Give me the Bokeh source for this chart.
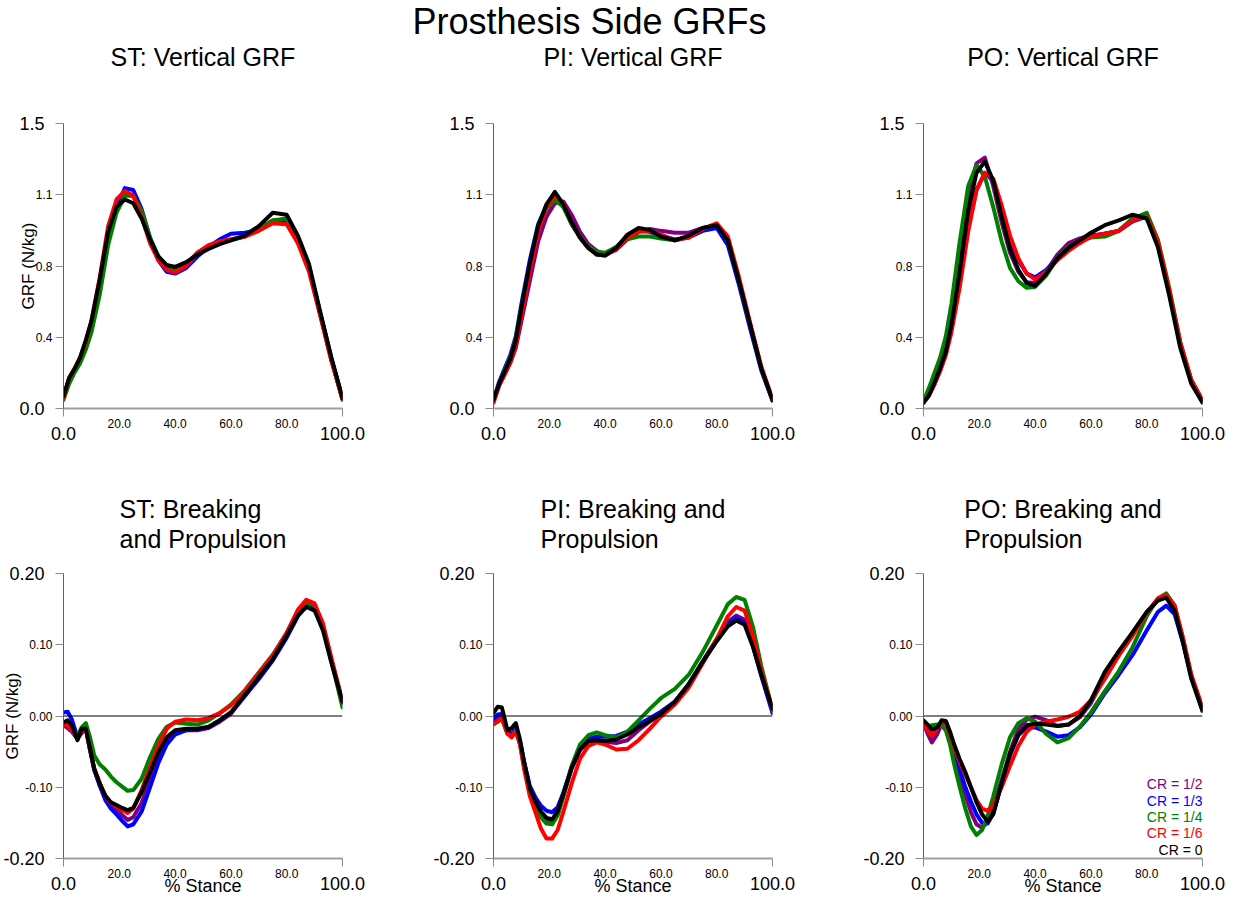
from bokeh.plotting import figure
from bokeh.models import Range1d, FixedTicker, Label, Span, LinearAxis
from bokeh.layouts import column, row
from bokeh.embed import file_html
from bokeh.resources import INLINE

FONT = "Liberation Sans"

series_names = ["CR = 1/2", "CR = 1/3", "CR = 1/4", "CR = 1/6", "CR = 0"]
series_colors = ["#800080", "#0000ff", "#008000", "#ff0000", "#000000"]

# % stance grids
x_vert = [0, 2, 4, 6, 8, 10, 13, 16, 19, 22, 25, 28, 31, 34, 37, 40, 44, 48, 52, 56,
          60, 65, 70, 75, 80, 84, 88, 92, 96, 100]
x_ap = [0, 1.5, 3, 5, 6.5, 8, 9.5, 11, 13, 15, 17, 19, 21, 23, 25, 28, 31, 34, 37, 40,
        44, 48, 52, 56, 60, 65, 70, 75, 80, 84, 87, 90, 93, 96, 100]

# ST vertical GRF
st_vert_cr2 = [0.06, 0.15, 0.20, 0.26, 0.34, 0.44, 0.65, 0.91, 1.06, 1.13, 1.12, 1.02, 0.89, 0.79, 0.74, 0.73, 0.76, 0.82, 0.855, 0.875, 0.89, 0.905, 0.945, 0.99, 0.995, 0.89, 0.74, 0.50, 0.26, 0.05]
st_vert_cr3 = [0.06, 0.15, 0.20, 0.26, 0.34, 0.43, 0.63, 0.89, 1.06, 1.16, 1.15, 1.05, 0.90, 0.78, 0.72, 0.71, 0.74, 0.80, 0.85, 0.89, 0.92, 0.925, 0.94, 0.985, 0.99, 0.89, 0.74, 0.50, 0.26, 0.05]
st_vert_cr4 = [0.045, 0.13, 0.19, 0.24, 0.31, 0.40, 0.60, 0.86, 1.03, 1.12, 1.12, 1.04, 0.90, 0.80, 0.75, 0.735, 0.76, 0.81, 0.845, 0.87, 0.885, 0.905, 0.945, 0.99, 1.0, 0.90, 0.75, 0.50, 0.26, 0.045]
st_vert_cr6 = [0.06, 0.16, 0.21, 0.27, 0.35, 0.46, 0.69, 0.96, 1.10, 1.145, 1.12, 1.01, 0.87, 0.78, 0.73, 0.715, 0.75, 0.82, 0.86, 0.88, 0.89, 0.905, 0.935, 0.975, 0.97, 0.87, 0.72, 0.49, 0.25, 0.05]
st_vert_cr0 = [0.065, 0.16, 0.21, 0.27, 0.36, 0.46, 0.68, 0.93, 1.06, 1.10, 1.08, 1.00, 0.89, 0.80, 0.755, 0.745, 0.77, 0.81, 0.84, 0.865, 0.885, 0.91, 0.96, 1.03, 1.02, 0.91, 0.76, 0.51, 0.27, 0.056]

# PI vertical GRF
pi_vert_cr2 = [0.04, 0.12, 0.18, 0.24, 0.32, 0.46, 0.67, 0.88, 1.01, 1.08, 1.09, 1.02, 0.93, 0.865, 0.83, 0.81, 0.835, 0.89, 0.93, 0.945, 0.935, 0.925, 0.925, 0.95, 0.965, 0.89, 0.67, 0.44, 0.21, 0.045]
pi_vert_cr3 = [0.04, 0.14, 0.21, 0.28, 0.38, 0.55, 0.78, 0.97, 1.07, 1.13, 1.07, 0.97, 0.90, 0.845, 0.815, 0.81, 0.85, 0.905, 0.935, 0.93, 0.91, 0.89, 0.90, 0.935, 0.95, 0.86, 0.65, 0.42, 0.20, 0.04]
pi_vert_cr4 = [0.045, 0.13, 0.20, 0.27, 0.37, 0.53, 0.75, 0.94, 1.05, 1.10, 1.06, 0.97, 0.905, 0.855, 0.825, 0.82, 0.85, 0.89, 0.905, 0.905, 0.895, 0.885, 0.905, 0.945, 0.97, 0.885, 0.67, 0.44, 0.21, 0.045]
pi_vert_cr6 = [0.03, 0.12, 0.18, 0.24, 0.33, 0.49, 0.72, 0.93, 1.06, 1.12, 1.08, 0.98, 0.90, 0.845, 0.81, 0.805, 0.84, 0.90, 0.93, 0.935, 0.915, 0.885, 0.90, 0.945, 0.975, 0.905, 0.69, 0.45, 0.22, 0.05]
pi_vert_cr0 = [0.045, 0.13, 0.195, 0.26, 0.36, 0.53, 0.76, 0.96, 1.075, 1.14, 1.075, 0.98, 0.90, 0.845, 0.81, 0.805, 0.845, 0.915, 0.95, 0.94, 0.905, 0.885, 0.91, 0.95, 0.965, 0.885, 0.67, 0.44, 0.21, 0.045]

# PO vertical GRF
po_vert_cr2 = [0.03, 0.08, 0.15, 0.23, 0.33, 0.48, 0.78, 1.11, 1.29, 1.32, 1.17, 0.98, 0.82, 0.72, 0.665, 0.66, 0.72, 0.81, 0.87, 0.895, 0.91, 0.92, 0.935, 1.0, 1.015, 0.87, 0.62, 0.34, 0.14, 0.04]
po_vert_cr3 = [0.035, 0.07, 0.13, 0.20, 0.29, 0.42, 0.66, 0.95, 1.15, 1.24, 1.20, 1.06, 0.89, 0.78, 0.71, 0.69, 0.73, 0.79, 0.845, 0.88, 0.905, 0.92, 0.935, 0.985, 1.01, 0.87, 0.62, 0.34, 0.14, 0.04]
po_vert_cr4 = [0.04, 0.11, 0.19, 0.27, 0.38, 0.55, 0.88, 1.17, 1.28, 1.22, 1.06, 0.88, 0.74, 0.67, 0.635, 0.64, 0.70, 0.79, 0.85, 0.88, 0.90, 0.905, 0.935, 1.0, 1.03, 0.89, 0.64, 0.35, 0.15, 0.04]
po_vert_cr6 = [0.035, 0.07, 0.13, 0.20, 0.28, 0.40, 0.64, 0.93, 1.15, 1.24, 1.21, 1.07, 0.91, 0.79, 0.71, 0.68, 0.72, 0.78, 0.83, 0.87, 0.905, 0.92, 0.935, 0.99, 1.01, 0.88, 0.63, 0.35, 0.15, 0.045]
po_vert_cr0 = [0.03, 0.07, 0.14, 0.215, 0.30, 0.44, 0.72, 1.04, 1.24, 1.30, 1.20, 1.01, 0.84, 0.73, 0.66, 0.645, 0.71, 0.79, 0.845, 0.885, 0.925, 0.965, 0.99, 1.02, 1.0, 0.85, 0.60, 0.32, 0.13, 0.03]

# ST braking and propulsion
st_ap_cr2 = [-0.013, -0.017, -0.022, -0.032, -0.024, -0.018, -0.048, -0.076, -0.097, -0.115, -0.125, -0.132, -0.139, -0.146, -0.142, -0.122, -0.090, -0.060, -0.035, -0.024, -0.020, -0.020, -0.017, -0.008, 0.003, 0.028, 0.053, 0.079, 0.112, 0.142, 0.157, 0.153, 0.124, 0.077, 0.018]
st_ap_cr3 = [0.005, 0.006, -0.005, -0.030, -0.022, -0.016, -0.045, -0.075, -0.098, -0.118, -0.130, -0.138, -0.147, -0.155, -0.152, -0.134, -0.100, -0.066, -0.040, -0.026, -0.020, -0.019, -0.016, -0.006, 0.005, 0.028, 0.052, 0.078, 0.110, 0.140, 0.155, 0.152, 0.125, 0.078, 0.020]
st_ap_cr4 = [-0.010, -0.012, -0.017, -0.028, -0.016, -0.010, -0.030, -0.055, -0.068, -0.075, -0.085, -0.093, -0.099, -0.105, -0.104, -0.088, -0.058, -0.032, -0.015, -0.009, -0.011, -0.012, -0.006, 0.004, 0.016, 0.036, 0.061, 0.086, 0.116, 0.147, 0.160, 0.155, 0.127, 0.078, 0.012]
st_ap_cr6 = [-0.012, -0.014, -0.020, -0.030, -0.022, -0.018, -0.047, -0.073, -0.094, -0.112, -0.122, -0.127, -0.132, -0.136, -0.130, -0.104, -0.072, -0.042, -0.018, -0.008, -0.005, -0.006, -0.003, 0.004, 0.015, 0.035, 0.060, 0.085, 0.117, 0.149, 0.163, 0.158, 0.130, 0.082, 0.020]
st_ap_cr0 = [-0.009, -0.006, -0.013, -0.034, -0.018, -0.018, -0.046, -0.074, -0.095, -0.112, -0.121, -0.125, -0.129, -0.132, -0.129, -0.107, -0.079, -0.051, -0.030, -0.020, -0.018, -0.018, -0.015, -0.006, 0.005, 0.030, 0.055, 0.080, 0.113, 0.141, 0.153, 0.148, 0.120, 0.075, 0.020]

# PI braking and propulsion
pi_ap_cr2 = [-0.008, -0.004, 0.000, -0.022, -0.026, -0.019, -0.037, -0.066, -0.100, -0.120, -0.136, -0.146, -0.148, -0.138, -0.113, -0.074, -0.048, -0.036, -0.034, -0.036, -0.038, -0.034, -0.020, -0.008, 0.003, 0.020, 0.045, 0.077, 0.108, 0.132, 0.141, 0.135, 0.100, 0.058, 0.008]
pi_ap_cr3 = [-0.005, 0.002, 0.003, -0.022, -0.025, -0.018, -0.036, -0.065, -0.098, -0.114, -0.126, -0.133, -0.135, -0.128, -0.108, -0.072, -0.045, -0.032, -0.029, -0.029, -0.028, -0.022, -0.012, -0.003, 0.006, 0.020, 0.044, 0.076, 0.106, 0.130, 0.138, 0.131, 0.098, 0.056, 0.004]
pi_ap_cr4 = [-0.012, -0.008, -0.004, -0.025, -0.028, -0.020, -0.040, -0.072, -0.105, -0.125, -0.142, -0.151, -0.152, -0.140, -0.113, -0.070, -0.040, -0.027, -0.023, -0.027, -0.030, -0.022, -0.006, 0.010, 0.025, 0.038, 0.058, 0.090, 0.127, 0.157, 0.167, 0.163, 0.125, 0.070, 0.008]
pi_ap_cr6 = [-0.010, -0.008, -0.003, -0.025, -0.030, -0.022, -0.040, -0.075, -0.112, -0.135, -0.158, -0.172, -0.172, -0.160, -0.135, -0.095, -0.060, -0.042, -0.037, -0.040, -0.047, -0.046, -0.034, -0.018, -0.001, 0.016, 0.040, 0.074, 0.108, 0.140, 0.153, 0.148, 0.112, 0.063, 0.010]
pi_ap_cr0 = [0.004, 0.013, 0.012, -0.020, -0.017, -0.010, -0.033, -0.065, -0.102, -0.120, -0.134, -0.143, -0.145, -0.134, -0.110, -0.073, -0.047, -0.035, -0.034, -0.035, -0.033, -0.026, -0.016, -0.007, 0.003, 0.020, 0.045, 0.076, 0.105, 0.126, 0.134, 0.128, 0.097, 0.058, 0.010]

# PO braking and propulsion
po_ap_cr2 = [-0.010, -0.025, -0.037, -0.025, -0.010, -0.010, -0.030, -0.055, -0.085, -0.110, -0.135, -0.152, -0.157, -0.148, -0.128, -0.090, -0.050, -0.018, -0.005, -0.001, -0.006, -0.014, -0.012, -0.002, 0.018, 0.055, 0.085, 0.115, 0.145, 0.163, 0.167, 0.150, 0.105, 0.055, 0.010]
po_ap_cr3 = [-0.008, -0.018, -0.028, -0.020, -0.008, -0.008, -0.025, -0.048, -0.075, -0.100, -0.120, -0.138, -0.150, -0.151, -0.137, -0.095, -0.055, -0.027, -0.016, -0.016, -0.022, -0.029, -0.027, -0.016, 0.002, 0.032, 0.058, 0.086, 0.120, 0.146, 0.155, 0.143, 0.103, 0.055, 0.008]
po_ap_cr4 = [-0.012, -0.016, -0.013, -0.012, -0.014, -0.020, -0.040, -0.068, -0.100, -0.130, -0.155, -0.167, -0.160, -0.140, -0.113, -0.068, -0.030, -0.010, -0.003, -0.008, -0.025, -0.037, -0.031, -0.015, 0.005, 0.035, 0.063, 0.097, 0.140, 0.165, 0.172, 0.155, 0.108, 0.055, 0.010]
po_ap_cr6 = [-0.010, -0.020, -0.028, -0.018, -0.008, -0.010, -0.025, -0.045, -0.065, -0.082, -0.100, -0.118, -0.130, -0.133, -0.125, -0.100, -0.070, -0.042, -0.022, -0.012, -0.008, -0.005, -0.001, 0.006, 0.022, 0.052, 0.085, 0.113, 0.145, 0.165, 0.170, 0.155, 0.110, 0.058, 0.012]
po_ap_cr0 = [-0.006, -0.012, -0.019, -0.016, -0.006, -0.007, -0.022, -0.040, -0.061, -0.079, -0.100, -0.121, -0.138, -0.148, -0.138, -0.095, -0.053, -0.026, -0.013, -0.011, -0.012, -0.014, -0.012, 0.000, 0.022, 0.062, 0.091, 0.118, 0.146, 0.162, 0.166, 0.148, 0.103, 0.052, 0.007]

# axis ticks
vert_yticks = [0.0, 0.375, 0.75, 1.125, 1.5]
vert_ylabels = ["0.0", "0.4", "0.8", "1.1", "1.5"]
ap_yticks = [-0.2, -0.1, 0.0, 0.1, 0.2]
ap_ylabels = ["-0.20", "-0.10", "0.00", "0.10", "0.20"]
xticks = [0, 20, 40, 60, 80, 100]
xlabels = ["0.0", "20.0", "40.0", "60.0", "80.0", "100.0"]

main_title = "Prosthesis Side GRFs"
titles_top = ["ST: Vertical GRF", "PI: Vertical GRF", "PO: Vertical GRF"]
titles_bot = ["ST: Breaking\nand Propulsion", "PI: Breaking and\nPropulsion", "PO: Breaking and\nPropulsion"]

col_widths = [420, 430, 384]
col_left = [63, 73, 73]
col_right = [78, 78, 32]


def style_title(t, size, line_height=1.15):
    t.align = "center"
    t.text_font = FONT
    t.text_font_size = size
    t.text_font_style = "normal"
    t.text_color = "black"
    t.text_line_height = line_height


def text_figure(width, height, left, right, text, size, standoff=0):
    f = figure(width=width, height=height, x_range=Range1d(0, 1), y_range=Range1d(0, 1),
               x_axis_location=None, y_axis_location=None,
               output_backend="svg", toolbar_location=None,
               min_border_left=left, min_border_right=right,
               min_border_top=0, min_border_bottom=0)
    f.title.text = text
    style_title(f.title, size)
    f.title.vertical_align = "top"
    f.title.standoff = standoff
    f.grid.visible = False
    f.outline_line_color = None
    return f


def make_panel(xs, ys, yticks, ylabels, col, height, top, bottom, outer_y_standoff,
               title=None, title_standoff=0, ylabel=None, xlabel=None, zero=False,
               legend=False):
    p = figure(width=col_widths[col], height=height,
               x_range=Range1d(0, 100), y_range=Range1d(yticks[0], yticks[-1]),
               output_backend="svg", toolbar_location=None,
               min_border_left=col_left[col], min_border_right=col_right[col],
               min_border_top=top, min_border_bottom=bottom)
    if title:
        p.title.text = title
        style_title(p.title, "25px", 1.08)
        p.title.standoff = title_standoff
    p.grid.visible = False
    p.outline_line_color = None
    p.background_fill_color = "white"
    p.border_fill_color = "white"

    # inner x axis: small labels, tick marks only at the ends
    xa = p.xaxis[0]
    xa.ticker = FixedTicker(ticks=xticks[1:-1], minor_ticks=[xticks[0], xticks[-1]])
    xa.major_label_overrides = {t: l for t, l in zip(xticks[1:-1], xlabels[1:-1])}
    xa.major_tick_out = 0
    xa.major_tick_in = 0
    xa.minor_tick_out = 8
    xa.minor_tick_in = 0
    xa.minor_tick_line_color = "#8c8c8c"
    xa.axis_line_color = "#a0a0a0"
    xa.axis_line_width = 2
    xa.major_label_standoff = 2
    xa.major_label_text_font = FONT
    xa.major_label_text_font_size = "12px"
    xa.major_label_text_color = "black"

    # outer x axis: large end labels
    xb = LinearAxis(ticker=FixedTicker(ticks=[xticks[0], xticks[-1]]),
                    major_label_overrides={xticks[0]: xlabels[0], xticks[-1]: xlabels[-1]},
                    axis_line_color=None, major_tick_line_color=None,
                    minor_tick_line_color=None, major_tick_out=0, major_tick_in=0,
                    major_label_standoff=-4, major_label_text_font=FONT,
                    major_label_text_font_size="18px", major_label_text_color="black")
    if xlabel:
        xb.axis_label = xlabel
        xb.axis_label_text_font = FONT
        xb.axis_label_text_font_size = "18px"
        xb.axis_label_text_font_style = "normal"
        xb.axis_label_text_color = "black"
        xb.axis_label_standoff = -17
    p.add_layout(xb, "below")

    # inner y axis: all ticks, small inner labels
    ya = p.yaxis[0]
    ya.ticker = FixedTicker(ticks=yticks)
    ya.major_label_overrides = {t: (l if 0 < i < len(yticks) - 1 else "")
                                for i, (t, l) in enumerate(zip(yticks, ylabels))}
    ya.major_tick_out = 8
    ya.major_tick_in = 0
    ya.major_tick_line_color = "#8c8c8c"
    ya.axis_line_color = "#606060"
    ya.axis_line_width = 1
    ya.major_label_standoff = 3
    ya.major_label_text_font = FONT
    ya.major_label_text_font_size = "12px"
    ya.major_label_text_color = "black"

    # outer y axis: large end labels
    yb = LinearAxis(ticker=FixedTicker(ticks=[yticks[0], yticks[-1]]),
                    major_label_overrides={yticks[0]: ylabels[0], yticks[-1]: ylabels[-1]},
                    axis_line_color=None, major_tick_line_color=None,
                    minor_tick_line_color=None, major_tick_out=0, major_tick_in=0,
                    major_label_standoff=outer_y_standoff, major_label_text_font=FONT,
                    major_label_text_font_size="18px", major_label_text_color="black")
    if ylabel:
        yb.axis_label = ylabel
        yb.axis_label_text_font = FONT
        yb.axis_label_text_font_size = "17px"
        yb.axis_label_text_font_style = "normal"
        yb.axis_label_text_color = "black"
        yb.axis_label_standoff = -22
    p.add_layout(yb, "left")

    if zero:
        p.add_layout(Span(location=0, dimension="width", line_color="black", line_width=1))

    for yv, c in zip(ys, series_colors):
        p.line(xs, yv, line_color=c, line_width=4, line_join="round", line_cap="round")

    if legend:
        n = len(series_names)
        for i, (name, c) in enumerate(zip(series_names, series_colors)):
            p.add_layout(Label(x=100, y=yticks[0], text=name, text_align="right",
                               text_baseline="middle", y_offset=9 + 16.3 * (n - 1 - i),
                               text_font=FONT, text_font_size="14px", text_color=c))
    return p


top_series = [
    [st_vert_cr2, st_vert_cr3, st_vert_cr4, st_vert_cr6, st_vert_cr0],
    [pi_vert_cr2, pi_vert_cr3, pi_vert_cr4, pi_vert_cr6, pi_vert_cr0],
    [po_vert_cr2, po_vert_cr3, po_vert_cr4, po_vert_cr6, po_vert_cr0],
]
bot_series = [
    [st_ap_cr2, st_ap_cr3, st_ap_cr4, st_ap_cr6, st_ap_cr0],
    [pi_ap_cr2, pi_ap_cr3, pi_ap_cr4, pi_ap_cr6, pi_ap_cr0],
    [po_ap_cr2, po_ap_cr3, po_ap_cr4, po_ap_cr6, po_ap_cr0],
]

head = text_figure(1234, 44, 0, 56, main_title, "36px")
title_row = [text_figure(col_widths[c], 32, col_left[c], col_right[c], titles_top[c], "25px",
                         standoff=-4)
             for c in range(3)]

top_row = []
bot_row = []
for c in range(3):
    top_row.append(make_panel(x_vert, top_series[c], vert_yticks, vert_ylabels,
                              c, 394, 47, 62, -12,
                              ylabel="GRF (N/kg)" if c == 0 else None))
    bot_row.append(make_panel(x_ap, bot_series[c], ap_yticks, ap_ylabels,
                              c, 428, 103, 40, -22,
                              title=titles_bot[c], title_standoff=40,
                              ylabel="GRF (N/kg)" if c == 0 else None,
                              xlabel="% Stance", zero=True, legend=(c == 2)))

layout = column(head, row(*title_row), row(*top_row), row(*bot_row))
open("out.html", "w").write(file_html(layout, INLINE))
